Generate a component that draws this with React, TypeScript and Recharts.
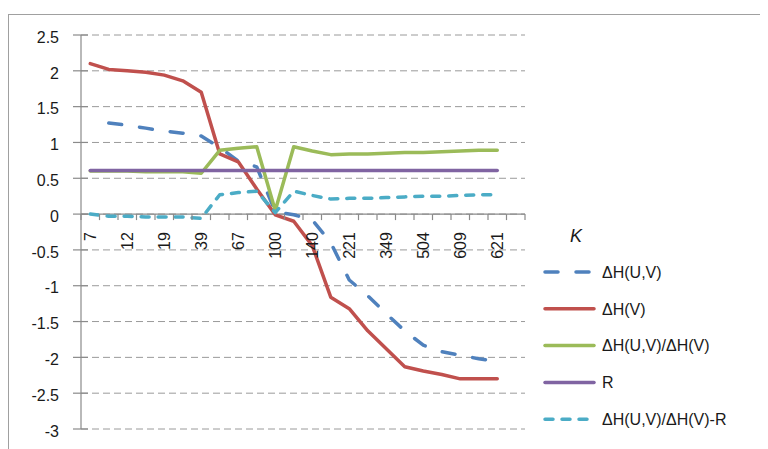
import { LineChart, Line, XAxis, YAxis, CartesianGrid, ReferenceLine } from "recharts";

// K values on the category axis (only every other one is labelled)
const K = ["7", "9", "12", "15", "19", "27", "39", "52", "67", "82", "100", "118", "140", "178", "221", "283", "349", "425", "504", "557", "609", "615", "621", ""];

const dHUV = [null, 1.27, 1.24, 1.2, 1.16, 1.13, 1.09, 0.93, 0.74, 0.66, 0.03, -0.01, -0.08, -0.4, -0.92, -1.14, -1.39, -1.63, -1.83, -1.92, -1.97, -2.02, -2.06, null];
const dHV = [2.1, 2.02, 2.0, 1.98, 1.94, 1.86, 1.7, 0.84, 0.73, 0.35, -0.01, -0.1, -0.44, -1.16, -1.32, -1.63, -1.88, -2.13, -2.19, -2.24, -2.3, -2.3, -2.3, null];
const ratio = [0.6, 0.6, 0.6, 0.59, 0.59, 0.59, 0.57, 0.89, 0.92, 0.94, 0.05, 0.94, 0.88, 0.83, 0.84, 0.84, 0.85, 0.86, 0.86, 0.87, 0.88, 0.89, 0.89, null];
const R = [0.61, 0.61, 0.61, 0.61, 0.61, 0.61, 0.61, 0.61, 0.61, 0.61, 0.61, 0.61, 0.61, 0.61, 0.61, 0.61, 0.61, 0.61, 0.61, 0.61, 0.61, 0.61, 0.61, null];
const ratioMinusR = [0, -0.03, -0.03, -0.04, -0.04, -0.04, -0.06, 0.27, 0.3, 0.32, 0.02, 0.32, 0.26, 0.21, 0.22, 0.22, 0.23, 0.24, 0.25, 0.25, 0.26, 0.27, 0.27, null];

const Y_TICKS = [-3, -2.5, -2, -1.5, -1, -0.5, 0, 0.5, 1, 1.5, 2, 2.5];
const Y_MIN = -3;
const Y_MAX = 2.5;

const SERIES = [
  { key: "huv", name: "ΔH(U,V)", color: "#4F81BD", dash: "13 18" },
  { key: "hv", name: "ΔH(V)", color: "#C0504D", dash: undefined },
  { key: "ratio", name: "ΔH(U,V)/ΔH(V)", color: "#9BBB59", dash: undefined },
  { key: "r", name: "R", color: "#8064A2", dash: undefined },
  { key: "diff", name: "ΔH(U,V)/ΔH(V)-R", color: "#4BACC6", dash: "8 9" },
];

const data = K.map((k, i) => ({
  k,
  huv: dHUV[i],
  hv: dHV[i],
  ratio: ratio[i],
  r: R[i],
  diff: ratioMinusR[i],
}));

const W = 760;
const H = 441;
const M = { top: 27, right: 243, bottom: 19, left: 0 };
const Y_AXIS_W = 73;
const PLOT_TOP = M.top;
const PLOT_H = H - M.top - M.bottom - 1;
const PLOT_W = W - M.left - M.right - Y_AXIS_W;
const BAND = PLOT_W / K.length;
// x axis crosses the value axis at 0, like in the Excel original
const Y0 = PLOT_TOP + (PLOT_H * Y_MAX) / (Y_MAX - Y_MIN);

const FONT = "'Liberation Sans', Arial, sans-serif";
const AXIS_GRAY = "#8a8a8a";

function XTick(props: any) {
  const { x, index, payload } = props;
  const last = index === K.length - 1;
  return (
    <g>
      <line x1={x - BAND / 2} x2={x - BAND / 2} y1={Y0} y2={Y0 + 6} stroke={AXIS_GRAY} strokeWidth={1.2} />
      {last && <line x1={x + BAND / 2} x2={x + BAND / 2} y1={Y0} y2={Y0 + 6} stroke={AXIS_GRAY} strokeWidth={1.2} />}
      {index % 2 === 0 && (
        <text
          x={0}
          y={0}
          transform={`translate(${x},${Y0 + 18}) rotate(-90)`}
          textAnchor="end"
          dy="0.36em"
          fontSize={16}
          fontFamily={FONT}
          fill="#1a1a1a"
        >
          {payload.value}
        </text>
      )}
    </g>
  );
}

function YTick(props: any) {
  const { x, y, payload } = props;
  return (
    <g>
      <line x1={x - 8} x2={x + 7} y1={y} y2={y} stroke={AXIS_GRAY} strokeWidth={1.2} />
      <text x={x - 22} y={y + 2} textAnchor="end" dy="0.36em" fontSize={16} fontFamily={FONT} fill="#1a1a1a">
        {payload.value}
      </text>
    </g>
  );
}

function LegendBox() {
  return (
    <div style={{ position: "absolute", left: 535, top: 227, width: 220, height: 210, fontFamily: FONT }}>
      <div style={{ position: "absolute", left: 27, top: -9, fontSize: 18, fontStyle: "italic", color: "#1a1a1a" }}>K</div>
      <svg width={220} height={210} style={{ position: "absolute", left: 0, top: 0 }}>
        {SERIES.map((s, i) => {
          const y = 37 + i * 36.8;
          return (
            <g key={s.key}>
              <line x1={2} x2={51} y1={y} y2={y} stroke={s.color} strokeWidth={3.5} strokeLinecap="round" strokeDasharray={s.dash} />
              <text x={59} y={y} dy="0.36em" fontSize={16} fill="#1a1a1a">{s.name}</text>
            </g>
          );
        })}
      </svg>
    </div>
  );
}

export default function App() {
  return (
    <div style={{ position: "relative", width: W, height: H, overflow: "hidden", fontFamily: FONT }}>
      <div
        style={{
          position: "absolute",
          left: 0,
          top: 6,
          width: W + 20,
          height: H + 20,
          borderLeft: "1px solid #a0a0a0",
          borderTop: "1px solid #a0a0a0",
        }}
      />
      <LineChart width={W} height={H} data={data} margin={M}>
        <CartesianGrid vertical={false} stroke="#9a9a9a" strokeDasharray="7 4" />
        <XAxis
          dataKey="k"
          type="category"
          interval={0}
          height={1}
          padding={{ left: BAND / 2, right: BAND / 2 }}
          axisLine={false}
          tickLine={false}
          tick={<XTick />}
        />
        <YAxis
          type="number"
          domain={[Y_MIN, Y_MAX]}
          ticks={Y_TICKS}
          width={Y_AXIS_W}
          interval={0}
          tickSize={0}
          tickMargin={0}
          tickLine={false}
          axisLine={{ stroke: AXIS_GRAY, strokeWidth: 1.2 }}
          tick={<YTick />}
        />
        <ReferenceLine y={0} stroke={AXIS_GRAY} strokeWidth={1.3} />
        {SERIES.map((s) => (
          <Line
            key={s.key}
            dataKey={s.key}
            name={s.name}
            stroke={s.color}
            strokeWidth={3.5}
            strokeDasharray={s.dash}
            strokeLinecap="round"
            strokeLinejoin="round"
            dot={false}
            activeDot={false}
            connectNulls={false}
            isAnimationActive={false}
          />
        ))}
      </LineChart>
      <LegendBox />
    </div>
  );
}
